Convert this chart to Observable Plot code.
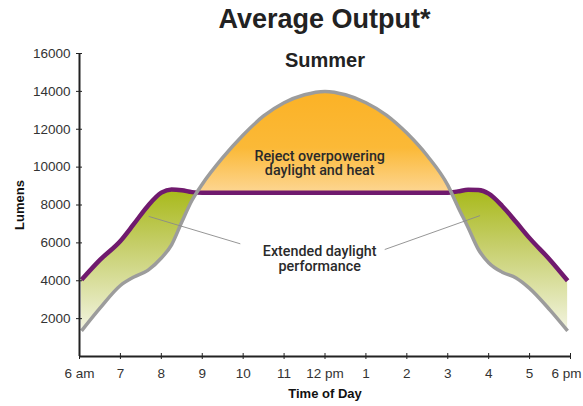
<!DOCTYPE html>
<html><head><meta charset="utf-8">
<script src="https://cdn.jsdelivr.net/npm/d3@7"></script>
<script src="https://cdn.jsdelivr.net/npm/@observablehq/plot@0.6"></script>
<style>
html,body{margin:0;padding:0;background:#fff;}
#title{height:40px;line-height:36px;padding-top:4px;box-sizing:border-box;padding-left:79px;padding-right:13px;text-align:center;font:bold 27px "Liberation Sans", Arial, Helvetica, sans-serif;color:#222;}
svg{display:block;}
</style></head>
<body>
<div id="chart"><div id="title">Average Output*</div></div>
<script>
// Time of day (hours, 24h clock)
const hours     = [6.05, 6.5, 7, 7.33, 7.67, 8, 8.25, 8.5, 8.75, 9, 9.5, 10, 10.5, 11, 11.5, 12, 12.5, 13, 13.5, 14, 14.5, 15, 15.25, 15.5, 15.75, 16, 16.33, 16.67, 17, 17.5, 17.93];
// Daylight (gray curve), lumens
const daylight  = [1350, 2550, 3750, 4200, 4550, 5200, 5900, 7100, 8250, 9100, 10500, 11700, 12700, 13400, 13820, 14000, 13820, 13400, 12750, 11800, 10600, 9050, 7900, 6800, 5650, 4950, 4450, 4150, 3600, 2450, 1350];
// Lamp output (purple curve), lumens
const ledOutput = [4050, 5100, 6100, 7000, 7950, 8650, 8820, 8780, 8680, 8650, 8650, 8650, 8650, 8650, 8650, 8650, 8650, 8650, 8650, 8650, 8650, 8650, 8720, 8800, 8790, 8600, 7950, 7100, 6250, 5100, 4000];

const xTicks = [6, 7, 8, 9, 10, 11, 12, 13, 14, 15, 16, 17, 18];
const xTickLabels = ["6 am", "7", "8", "9", "10", "11", "12 pm", "1", "2", "3", "4", "5", "6 pm"];
const yTicks = [2000, 4000, 6000, 8000, 10000, 12000, 14000, 16000];

// annotation lines (each line of text its own entry)
const noteLines  = ["Reject overpowering", "daylight and heat", "Extended daylight", "performance"];
const noteHour   = [11.87, 11.87, 11.87, 11.87];
const noteLumens = [10580, 9800, 5570, 4770];

const leaderStartHour   = [7.69, 15.79];
const leaderStartLumens = [7400, 7440];
const leaderEndHour     = [9.93, 13.46];
const leaderEndLumens   = [5950, 5650];

const data = hours.map((h, i) => ({hour: h, daylight: daylight[i], led: ledOutput[i]}));

const font = '"Liberation Sans", Arial, Helvetica, sans-serif';
const lastTick = xTicks[xTicks.length - 1];

function gradientDefs(index, scales) {
  const y = scales.y;
  const top = y(14000), bottom = y(1000);
  const off = v => (y(v) - top) / (bottom - top);
  const defs = d3.create("svg:defs");
  const g = defs.append("linearGradient").attr("id", "fillGrad")
    .attr("gradientUnits", "userSpaceOnUse")
    .attr("x1", 0).attr("x2", 0).attr("y1", top).attr("y2", bottom);
  const stops = [
    [14000, "#fbb226"], [11000, "#fbb937"], [8700, "#fdd590"],
    [8700, "#a9ba1c"], [6000, "#c4cd66"], [1000, "#f6f7ea"]
  ];
  for (const [v, c] of stops) g.append("stop").attr("offset", off(v)).attr("stop-color", c);
  return defs.node();
}

const chart = Plot.plot({
  width: 583, height: 366,
  marginLeft: 79, marginRight: 13, marginTop: 13, marginBottom: 50,
  x: {domain: [6, 18]},
  y: {domain: [0, 16000]},
  style: {fontFamily: font, fontSize: "13.5px", color: "#333", background: "transparent"},
  marks: [
    gradientDefs,
    Plot.areaY(data, {x: "hour", y1: "led", y2: "daylight", curve: "monotone-x", fill: "url(#fillGrad)"}),
    Plot.line(data, {x: "hour", y: "led", curve: "monotone-x", stroke: "#701a6e", strokeWidth: 4.5, strokeLinecap: "butt"}),
    Plot.line(data, {x: "hour", y: "daylight", curve: "monotone-x", stroke: "#9c9c9c", strokeWidth: 3.5, strokeLinecap: "butt"}),
    Plot.link([0, 1], {x1: i => leaderStartHour[i], y1: i => leaderStartLumens[i], x2: i => leaderEndHour[i], y2: i => leaderEndLumens[i], stroke: "#8a8a8a", strokeWidth: 0.9}),
    Plot.text(noteLines, {x: (d, i) => noteHour[i], y: (d, i) => noteLumens[i], text: d => d, fontFamily: "Roboto, " + font, fontSize: 14.3, fill: "#2a2a2a", fontWeight: 500}),
    Plot.text(["Summer"], {x: 12, y: 16000, dy: 7, text: d => d, fontSize: 20, fontWeight: "bold", fill: "#222"}),
    Plot.ruleY([0], {stroke: "#222", strokeWidth: 2}),
    Plot.ruleX([6], {stroke: "#222", strokeWidth: 2}),
    Plot.axisX(xTicks, {tickSize: 6, dy: -3, fill: "none", stroke: "#222", label: null}),
    Plot.axisX(xTicks.filter(d => d !== lastTick), {tickSize: 0, tickPadding: 12, tickFormat: d => xTickLabels[xTicks.indexOf(d)], fontSize: 13.5, fill: "#333", label: null}),
    Plot.text([lastTick], {x: d => d, frameAnchor: "bottom", lineAnchor: "top", dy: 12, dx: 11, textAnchor: "end", text: d => xTickLabels[xTicks.indexOf(d)], fontSize: 13.5, fill: "#333"}),
    Plot.axisY(yTicks, {tickSize: 6, dx: 3, fill: "none", stroke: "#222", label: null}),
    Plot.axisY(yTicks, {tickSize: 0, tickPadding: 9, tickFormat: d => String(d), fontSize: 13.5, fill: "#333", label: null}),
    Plot.text(["Lumens"], {frameAnchor: "left", textAnchor: "middle", lineAnchor: "middle", rotate: -90, dx: -60, text: d => d, fontSize: 13, fontWeight: "bold", fill: "#111"}),
    Plot.text(["Time of Day"], {frameAnchor: "bottom", lineAnchor: "middle", dy: 37, text: d => d, fontSize: 13, fontWeight: "bold", fill: "#111"})
  ]
});
document.getElementById("chart").appendChild(chart);
</script>
</body></html>
